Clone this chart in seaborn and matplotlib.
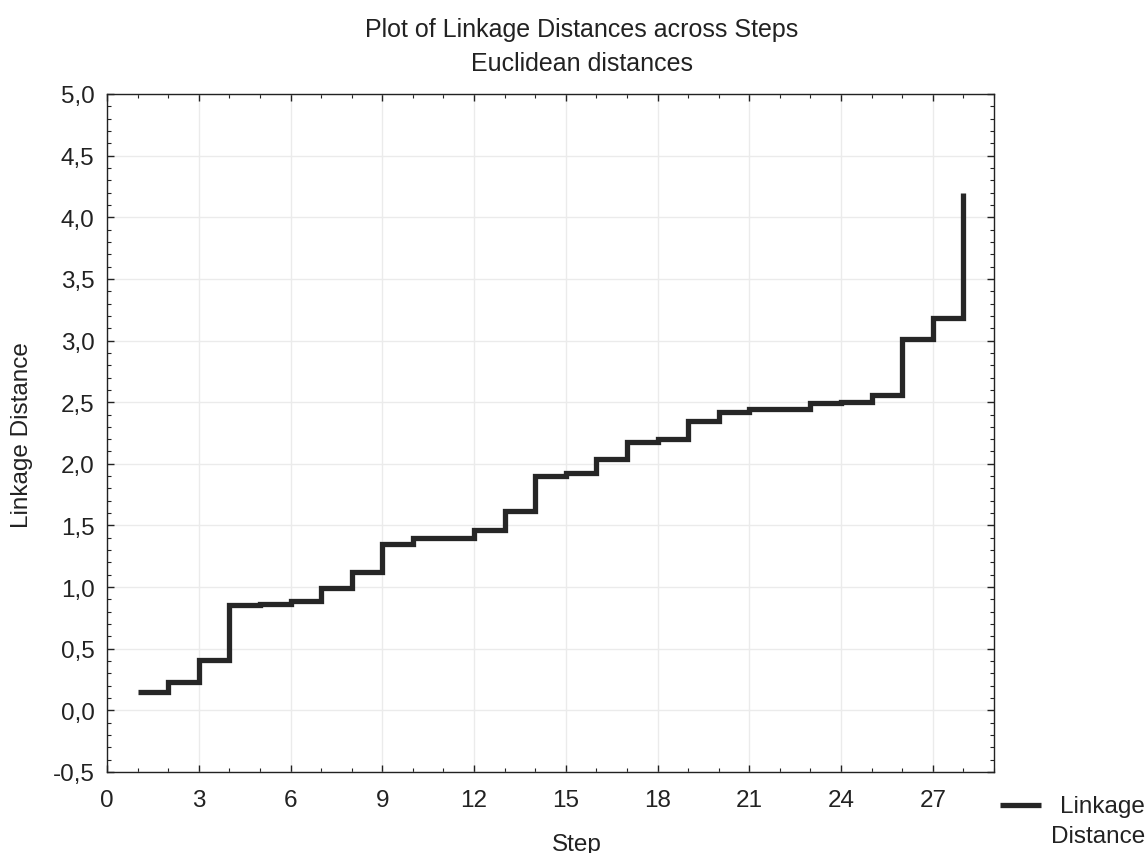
import matplotlib
matplotlib.use("Agg")
import matplotlib.pyplot as plt
from matplotlib.ticker import MultipleLocator, FuncFormatter
from matplotlib.legend_handler import HandlerLine2D
from matplotlib.lines import Line2D
import seaborn as sns
import pandas as pd

steps = list(range(1, 29))
linkage = [0.15, 0.23, 0.41, 0.855, 0.865, 0.89, 0.99, 1.125, 1.35, 1.40,
           1.40, 1.46, 1.62, 1.90, 1.925, 2.04, 2.175, 2.20, 2.345, 2.42,
           2.445, 2.445, 2.49, 2.505, 2.56, 3.01, 3.18, 4.20]
x_ticks = [0, 3, 6, 9, 12, 15, 18, 21, 24, 27]
y_ticks = [-0.5, 0.0, 0.5, 1.0, 1.5, 2.0, 2.5, 3.0, 3.5, 4.0, 4.5, 5.0]

df = pd.DataFrame({"Step": steps, "Linkage Distance": linkage})

sns.set_theme(style="white")
plt.rcParams["font.family"] = ["Liberation Sans", "DejaVu Sans"]

TXT = "#222222"
FS = 17.5

fig = plt.figure(figsize=(11.48, 8.54), dpi=100)
ax = fig.add_axes([107 / 1148, 1 - 773 / 854, 887 / 1148, 678 / 854])

sns.lineplot(data=df, x="Step", y="Linkage Distance", ax=ax,
             drawstyle="steps-post", color="#262626", linewidth=3.8,
             label="Linkage\nDistance", solid_joinstyle="miter",
             solid_capstyle="butt")

ax.set_xlim(0, 29)
ax.set_ylim(-0.5, 5.0)
ax.set_xticks(x_ticks)
ax.set_yticks(y_ticks)
ax.xaxis.set_minor_locator(MultipleLocator(1))
ax.yaxis.set_minor_locator(MultipleLocator(0.1))
ax.yaxis.set_major_formatter(FuncFormatter(lambda v, p: f"{v:.1f}".replace(".", ",")))

ax.grid(True, which="major", color="#ebebeb", linewidth=1)
for s in ax.spines.values():
    s.set_color("#222222")
    s.set_linewidth(1.0)
ax.tick_params(which="both", direction="in", top=True, right=True,
               left=True, bottom=True, colors="#222222", labelcolor=TXT)
ax.tick_params(which="major", length=5, width=1, labelsize=FS)
ax.tick_params(axis="x", which="major", pad=12)
ax.tick_params(axis="y", which="major", pad=9)
ax.tick_params(which="minor", length=3, width=0.8)

ax.set_xlabel("Step", fontsize=FS, color=TXT)
ax.set_ylabel("Linkage Distance", fontsize=FS, color=TXT)
ax.xaxis.set_label_coords(0.530, -0.090)
ax.yaxis.set_label_coords(-0.083, 0.4985)

fig.text(0.507, 0.965, "Plot of Linkage Distances across Steps",
         ha="center", va="center", fontsize=18, color=TXT)
fig.text(0.507, 0.925, "Euclidean distances",
         ha="center", va="center", fontsize=18, color=TXT)


class TopHandler(HandlerLine2D):
    def create_artists(self, legend, orig_handle, xdescent, ydescent,
                       width, height, fontsize, trans):
        arts = super().create_artists(legend, orig_handle, xdescent, ydescent,
                                      width, height, fontsize, trans)
        for a in arts:
            if isinstance(a, Line2D):
                a.set_ydata([y + 0.66 * fontsize for y in a.get_ydata()])
        return arts


handles, labels = ax.get_legend_handles_labels()
leg = ax.legend(handles, labels, loc="center right",
                bbox_to_anchor=((1145 - 107) / 887, (773 - 822) / 678),
                bbox_transform=ax.transAxes, frameon=False,
                fontsize=FS, handlelength=1.7, handletextpad=0.4,
                borderaxespad=0, borderpad=0,
                handler_map={Line2D: TopHandler()})
for t in leg.get_texts():
    t.set_multialignment("right")
    t.set_linespacing(1.45)
    t.set_color(TXT)

fig.savefig("out.png", dpi=100)
